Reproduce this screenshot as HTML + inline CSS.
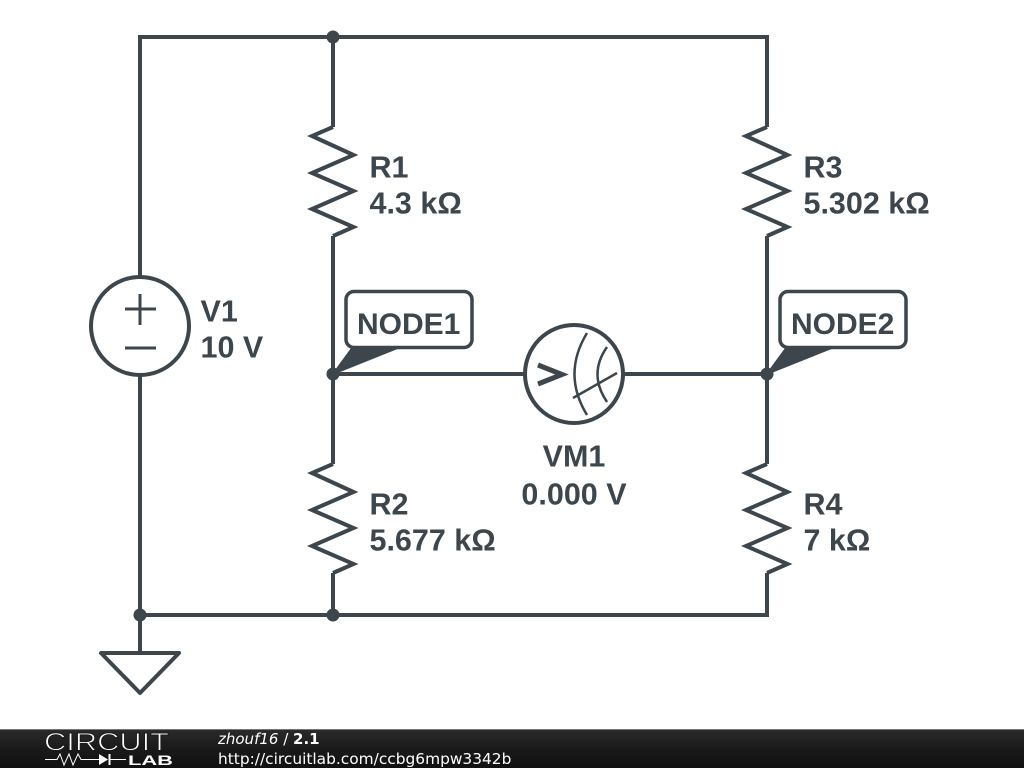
<!DOCTYPE html>
<html>
<head>
<meta charset="utf-8">
<style>
html,body{margin:0;padding:0;background:#fff;width:1024px;height:768px;overflow:hidden}
svg{display:block}
.l{font-family:"Liberation Sans",sans-serif;font-weight:700;font-size:30.500px;fill:#3c464c}
.n{font-size:30px}
.w{fill:none;stroke:#3c464c;stroke-width:4;stroke-linejoin:miter}
.f{font-family:"DejaVu Sans",sans-serif;fill:#fff}
</style>
</head>
<body>
<svg width="1024" height="768" viewBox="0 0 1024 768" xmlns="http://www.w3.org/2000/svg">
<defs>
<linearGradient id="g" x1="0" y1="0" x2="0" y2="1"><stop offset="0" stop-color="#2b2b2b"/><stop offset="0.5" stop-color="#1a1a1a"/><stop offset="1" stop-color="#111"/></linearGradient>
</defs>
<rect width="1024" height="768" fill="#fff"/>

<!-- wires -->
<path class="w" d="M140 277V37H767V127M140 375V653M140 615H767V573M333 37V127M333 236V464M333 573V615M767 236V464M333 374H525M623 374H767"/>

<!-- resistors -->
<path class="w" d="M333 127L312 136L353.500 155L312 173L353.500 191L312 209L353.500 227L333 236"/>
<path class="w" d="M767 127L746 136L787.500 155L746 173L787.500 191L746 209L787.500 227L767 236"/>
<path class="w" d="M333 464L312 473L353.500 492L312 510L353.500 528L312 546L353.500 564L333 573"/>
<path class="w" d="M767 464L746 473L787.500 492L746 510L787.500 528L746 546L787.500 564L767 573"/>

<!-- V1 -->
<circle class="w" cx="140" cy="326" r="49" fill="#fff"/>
<path d="M125 309H156M140 294V325M125 348H156" fill="none" stroke="#3c464c" stroke-width="3"/>

<!-- VM1 -->
<circle class="w" cx="574" cy="374" r="49"/>
<path d="M538 365L562 374.500L538 384" fill="none" stroke="#3c464c" stroke-width="5"/>
<path d="M587 333Q562 374 587 415M607 347Q588 374 607 402M573 398L617 373" fill="none" stroke="#3c464c" stroke-width="2.500"/>

<!-- junctions -->
<g fill="#3c464c">
<circle cx="333" cy="37" r="6.500"/>
<circle cx="333" cy="374" r="6.500"/>
<circle cx="767" cy="374" r="6.500"/>
<circle cx="140" cy="615" r="6.500"/>
<circle cx="333" cy="615" r="6.500"/>
</g>

<!-- ground -->
<path d="M101 653H179L140 693Z" fill="none" stroke="#3c464c" stroke-width="4" stroke-linejoin="round"/>

<!-- node tags -->
<path d="M333 374L352 348H398Z" fill="#3c464c" stroke="#3c464c" stroke-width="1.500" stroke-linejoin="round"/>
<rect x="346" y="291.500" width="126" height="56" rx="8" fill="#fff" stroke="#3c464c" stroke-width="3.500"/>
<path d="M767 374L786 348H832Z" fill="#3c464c" stroke="#3c464c" stroke-width="1.500" stroke-linejoin="round"/>
<rect x="780" y="291.500" width="126" height="56" rx="8" fill="#fff" stroke="#3c464c" stroke-width="3.500"/>

<!-- labels -->
<text class="l n" x="357" y="334">NODE1</text>
<text class="l n" x="791" y="334">NODE2</text>
<text class="l" x="369.500" y="177.500">R1</text>
<text class="l" x="369.500" y="213.500">4.3 kΩ</text>
<text class="l" x="803.500" y="177.500">R3</text>
<text class="l" x="803.500" y="213.500">5.302 kΩ</text>
<text class="l" x="369.500" y="514.500">R2</text>
<text class="l" x="369.500" y="550.500">5.677 kΩ</text>
<text class="l" x="803.500" y="514.500">R4</text>
<text class="l" x="803.500" y="550.500">7 kΩ</text>
<text class="l" x="200.500" y="321.500">V1</text>
<text class="l" x="200.500" y="357.500">10 V</text>
<text class="l" x="574" y="466.500" text-anchor="middle">VM1</text>
<text class="l" x="574" y="504.500" text-anchor="middle">0.000 V</text>

<!-- footer -->
<rect x="0" y="729" width="1024" height="39" fill="url(#g)"/>
<rect x="0" y="729" width="1024" height="1" fill="#777"/>
<text x="44" y="750.500" font-family="'Liberation Sans',sans-serif" font-size="25" textLength="125" lengthAdjust="spacingAndGlyphs" fill="#fff" stroke="#1a1a1a" stroke-width="0.900">CIRCUIT</text>
<path d="M45 759.500H57L60 754L64 765L69 754L73 765L78 754L81 759.500H99M110 759.500H126" fill="none" stroke="#fff" stroke-width="1"/>
<path d="M99 754L108 759.500L99 765ZM108.500 754H110.500V765H108.500Z" fill="#fff"/>
<text x="128" y="765" font-family="'Liberation Sans',sans-serif" font-weight="700" font-size="14" textLength="45" lengthAdjust="spacingAndGlyphs" fill="#fff">LAB</text>
<text class="f" x="218" y="744" font-size="15"><tspan font-style="italic">zhouf16</tspan> / <tspan font-weight="700">2.1</tspan></text>
<text class="f" x="218" y="764" font-size="15.400">http://circuitlab.com/ccbg6mpw3342b</text>
</svg>
</body>
</html>
